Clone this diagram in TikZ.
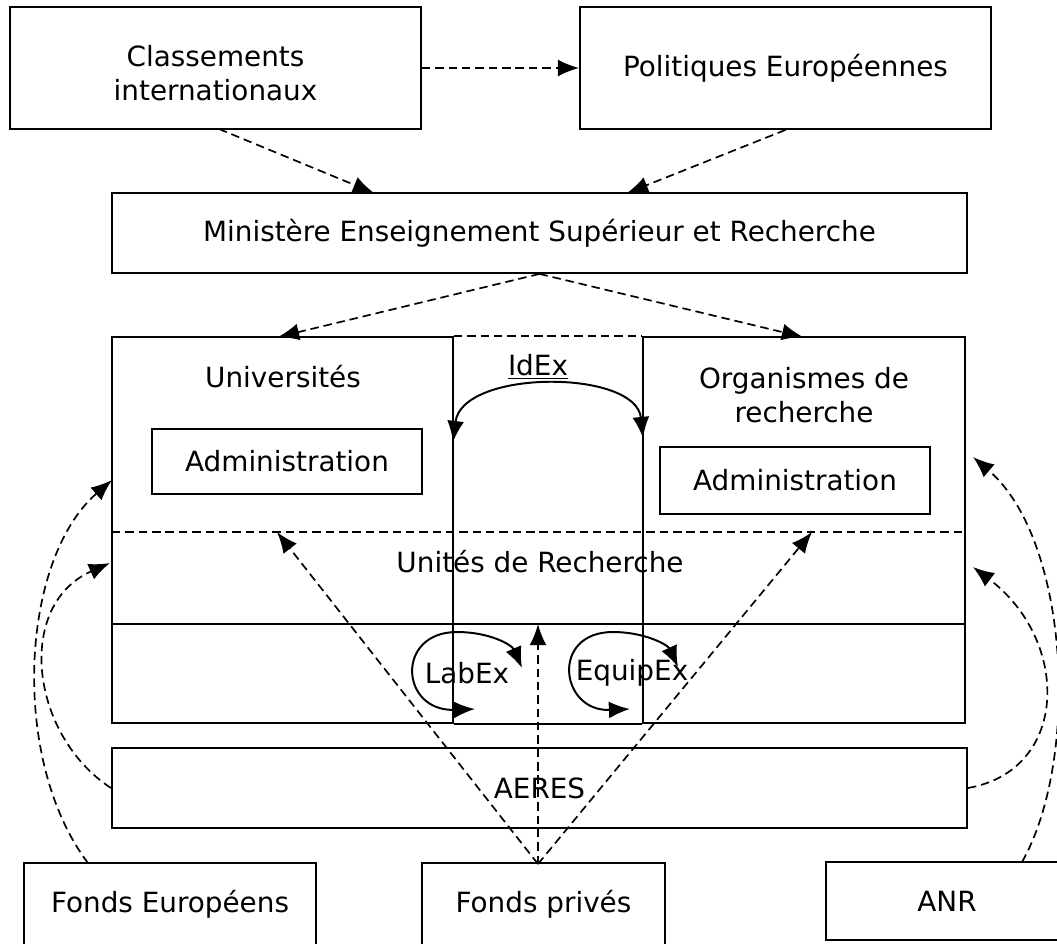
\documentclass[tikz,border=0pt]{standalone}
\usepackage{fontspec}
\setmainfont{DejaVu Sans}
\usetikzlibrary{arrows.meta}

\begin{document}
\begin{tikzpicture}[x=0.025cm,y=-0.025cm,
  tip/.tip={Latex[length=15pt,width=12pt]},
  box/.style={draw,line width=1.3pt,inner sep=0pt,align=center,font=\fontsize{19.8}{24.5}\selectfont},
  lbl/.style={align=center,inner sep=0pt,font=\fontsize{19.8}{24.5}\selectfont},
  flow/.style={-tip,dash pattern=on 6pt off 3.5pt,line width=1.2pt},
  sep/.style={dash pattern=on 6pt off 3.5pt,line width=1.2pt},
  swing/.style={tip-tip,line width=1.4pt}]
  \useasboundingbox (0,0) rectangle (1057,943);
  % top row
  \node[box,minimum width=10.275cm,minimum height=3.05cm,
        label={[lbl,yshift=-3.5pt]center:{Classements\\internationaux}}] (clas) at (215.5,68) {};
  \node[box,minimum width=10.275cm,minimum height=3.05cm] (poli) at (785.5,68) {Politiques Européennes};
  \node[box,minimum width=21.375cm,minimum height=2cm] (mini) at (539.5,233) {Ministère Enseignement Supérieur et Recherche};
  % columns
  \node[box,minimum width=8.525cm,minimum height=9.65cm] (univ) at (282.5,530) {};
  \node[box,minimum width=8.05cm,minimum height=9.65cm] (orga) at (804,530) {};
  \node[lbl] (univlbl) at (283,377) {Universités};
  \node[box,minimum width=6.75cm,minimum height=1.625cm] (adm1) at (287,461.5) {Administration};
  \node[lbl] (orgalbl) at (804,395) {Organismes de\\recherche};
  \node[box,minimum width=6.75cm,minimum height=1.675cm] (adm2) at (795,480.5) {Administration};
  \node[lbl] (idex) at (538,367) {\underline{IdEx}};
  \node[lbl] (unites) at (540,562) {Unités de Recherche};
  \node[lbl] (labex) at (467,673) {LabEx};
  \node[lbl] (equipex) at (632,673) {EquipEx};
  % bottom row
  \node[box,minimum width=21.375cm,minimum height=2cm] (aeres) at (539.5,788) {AERES};
  \node[box,minimum width=7.3cm,minimum height=2.05cm] (feu) at (170,904) {Fonds Européens};
  \node[box,minimum width=6.075cm,minimum height=2.05cm] (fpriv) at (543.5,904) {Fonds privés};
  \node[box,minimum width=6.05cm,minimum height=1.95cm] (anr) at (947,901) {ANR};
  % inner separations
  \draw[sep] (univ.north east) -- (orga.north west);
  \draw[line width=1.3pt] (univ.south east) -- (orga.south west);
  \draw[sep] (112,532) -- (965,532);
  \draw[line width=1.3pt] (112,624) -- (965,624);
  % anchor points
  \coordinate (clasfoot) at (219,129);
  \coordinate (minil) at (374,193);
  \coordinate (minir) at (627,193);
  \coordinate (univtop) at (278,337);
  \coordinate (orgatop) at (803,337);
  \coordinate (idexl) at (453,442);
  \coordinate (idexr) at (643,438);
  \coordinate (admlowl) at (277,532);
  \coordinate (admlowr) at (812,532);
  \coordinate (uniline) at (538,624);
  \coordinate (fprivtop) at (538,864);
  \coordinate (feutop) at (88,863);
  \coordinate (univside) at (112,480);
  \coordinate (unisidel) at (110,563);
  \coordinate (anrtop) at (1022,862);
  \coordinate (orgaside) at (973,457);
  \coordinate (unisider) at (973,567);
  % dashed flows
  \draw[flow] (clas.east) -- (poli.west);
  \draw[flow] (clasfoot) -- (minil);
  \draw[flow] (poli.south) -- (minir);
  \draw[flow] (mini.south) -- (univtop);
  \draw[flow] (mini.south) -- (orgatop);
  \draw[flow] (fprivtop) -- (admlowl);
  \draw[flow] (fprivtop) -- (uniline);
  \draw[flow] (fprivtop) -- (admlowr);
  \draw[flow] (feutop) .. controls (10,760) and (20,560) .. (univside);
  \draw[flow] (aeres.west) .. controls (30,735) and (15,605) .. (unisidel);
  \draw[flow] (anrtop) .. controls (1080,760) and (1070,540) .. (orgaside);
  \draw[flow] (aeres.east) .. controls (1070,770) and (1070,640) .. (unisider);
  % solid swings
  \draw[swing] (idexl) .. controls (462,369) and (636,369) .. (idexr);
  \draw[swing] (475,709) .. controls (400,712) and (395,632) .. (457,632)
        .. controls (490,632) and (512,645) .. (522,668);
  \draw[swing] (630,709) .. controls (560,712) and (550,632) .. (613,632)
        .. controls (645,632) and (668,645) .. (678,667);
\end{tikzpicture}
\end{document}
